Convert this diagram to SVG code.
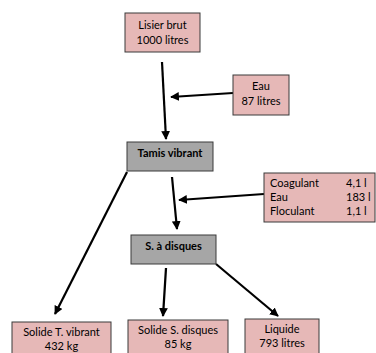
<svg xmlns="http://www.w3.org/2000/svg" width="376" height="353" viewBox="0 0 376 353">
<defs>
<marker id="ah" viewBox="0 0 10 10" refX="9" refY="5" markerWidth="4" markerHeight="4" orient="auto" markerUnits="strokeWidth">
<path d="M0,0 L10,5 L0,10 z" fill="#000"/>
</marker>
<style>
.pink{fill:#e6b8b7;stroke:#3a3a3a;stroke-width:1}
.grey{fill:#a6a6a6;stroke:#3a3a3a;stroke-width:1}
text{font-family:Lato,"Open Sans","Liberation Sans",sans-serif;font-size:11px;fill:#000}
.c{text-anchor:middle}
.b{font-weight:bold}
.arr{stroke:#000;stroke-width:2.2;fill:none;marker-end:url(#ah)}
</style>
</defs>
<rect width="376" height="353" fill="#fff"/>
<g id="connectors">
<line class="arr" x1="162" y1="62" x2="166" y2="139"/>
<line class="arr" x1="233" y1="93" x2="171" y2="97"/>
<line class="arr" x1="172" y1="177" x2="177" y2="229"/>
<line class="arr" x1="264" y1="194" x2="179" y2="200"/>
<line class="arr" x1="127" y1="172" x2="55" y2="314"/>
<line class="arr" x1="166" y1="268" x2="163" y2="316"/>
<line class="arr" x1="216" y1="264" x2="278" y2="316"/>
</g>
<g id="lisier">
<rect class="pink" x="125" y="13" width="75" height="39"/>
<text class="c" x="162.5" y="29">Lisier brut</text>
<text class="c" x="162.5" y="44">1000 litres</text>
</g>
<g id="eau">
<rect class="pink" x="233" y="75" width="56" height="40"/>
<text class="c" x="261" y="90">Eau</text>
<text class="c" x="261" y="105">87 litres</text>
</g>
<g id="tamis">
<rect class="grey" x="127" y="142" width="86" height="29"/>
<text class="c b" x="170" y="157">Tamis vibrant</text>
</g>
<g id="coagulant">
<rect class="pink" x="264" y="173" width="111" height="49"/>
<text x="270" y="187">Coagulant</text>
<text x="346" y="187">4,1 l</text>
<text x="270" y="201">Eau</text>
<text x="346" y="201">183 l</text>
<text x="270" y="215">Floculant</text>
<text x="346" y="215">1,1 l</text>
</g>
<g id="disques">
<rect class="grey" x="131" y="235" width="85" height="29"/>
<text class="c b" x="173.5" y="250">S. à disques</text>
</g>
<g id="solide-tv">
<rect class="pink" x="12" y="322" width="99" height="40"/>
<text class="c" x="61.5" y="336">Solide T. vibrant</text>
<text class="c" x="61.5" y="350">432 kg</text>
</g>
<g id="solide-sd">
<rect class="pink" x="128" y="320" width="100" height="40"/>
<text class="c" x="178" y="334">Solide S. disques</text>
<text class="c" x="178" y="348">85 kg</text>
</g>
<g id="liquide">
<rect class="pink" x="245" y="319" width="74" height="40"/>
<text class="c" x="282" y="333">Liquide</text>
<text class="c" x="282" y="347">793 litres</text>
</g>
</svg>
